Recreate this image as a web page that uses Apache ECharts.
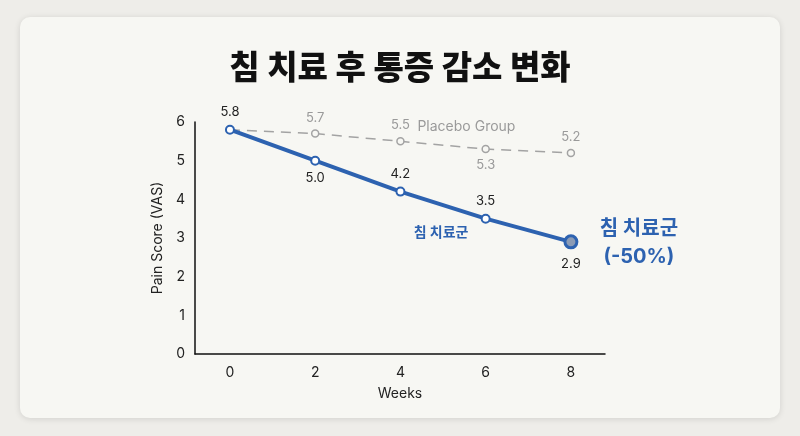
<!DOCTYPE html>
<html><head><meta charset="utf-8">
<script src="https://cdn.jsdelivr.net/npm/echarts@6/dist/echarts.min.js"></script>
<style>
html,body{margin:0;padding:0;background:#eeede9;width:800px;height:436px;overflow:hidden;}
#card{position:absolute;left:20px;top:17px;width:760px;height:401px;background:#f7f7f3;border-radius:10px;box-shadow:0 1px 6px rgba(0,0,0,0.12);}
#chart{position:absolute;left:0;top:0;width:800px;height:436px;}
</style></head>
<body><div id="card"></div><div id="chart"></div>
<script>
var weeks = [0, 2, 4, 6, 8];
var acupuncture = [5.8, 5.0, 4.2, 3.5, 2.9];
var placebo = [5.8, 5.7, 5.5, 5.3, 5.2];
var yTicks = [0, 1, 2, 3, 4, 5, 6];
var acuLabelPos = ['top', 'bottom', 'top', 'top', 'bottom'];
var plaLabelPos = [null, 'top', 'top', 'bottom', 'top'];

var FONT = 'Inter, "Noto Sans CJK KR", sans-serif';
var TFONT = '"Noto Sans CJK KR", sans-serif';
var BLUE = '#2d62b0';
var GRAY = '#a3a3a3';

var chart = echarts.init(document.getElementById('chart'), null, {renderer: 'canvas'});

function fmt(p) { return p.value[1].toFixed(1); }

var acuData = weeks.map(function (w, i) {
  var last = i === weeks.length - 1;
  return {
    value: [w, acupuncture[i]],
    symbolSize: last ? 12 : 8,
    itemStyle: last ? {color: '#8b9bb5', borderColor: BLUE, borderWidth: 3} : {color: '#ffffff', borderColor: BLUE, borderWidth: 2},
    label: {show: true, position: acuLabelPos[i], distance: last ? 8 : 6}
  };
});
var plaData = weeks.map(function (w, i) {
  return {
    value: [w, placebo[i]],
    label: {show: plaLabelPos[i] !== null, position: plaLabelPos[i] || 'top', distance: 5}
  };
});

var option = {
  animation: false,
  title: {
    text: '침 치료 후 통증 감소 변화',
    left: 'center', top: 45,
    textStyle: {fontFamily: TFONT, fontSize: 33, fontWeight: 900, color: '#111'}
  },
  grid: {left: 195, right: 195, top: 122, bottom: 82, containLabel: false},
  xAxis: {
    type: 'value', min: -0.82, max: 8.8,
    name: 'Weeks', nameLocation: 'middle', nameGap: 33,
    nameTextStyle: {fontFamily: FONT, fontSize: 14, color: '#222'},
    axisLine: {show: true, onZero: false, lineStyle: {color: '#111', width: 1.5}},
    axisTick: {show: false},
    splitLine: {show: false},
    axisLabel: {customValues: weeks, fontFamily: FONT, fontSize: 14, color: '#222', margin: 12}
  },
  yAxis: {
    type: 'value', min: 0, max: 6, interval: 1,
    name: 'Pain Score (VAS)', nameLocation: 'middle', nameGap: 30,
    nameTextStyle: {fontFamily: FONT, fontSize: 14, color: '#222'},
    axisLine: {show: true, onZero: false, lineStyle: {color: '#111', width: 1.5}},
    axisTick: {show: false},
    splitLine: {show: false},
    axisLabel: {customValues: yTicks, fontFamily: FONT, fontSize: 14, color: '#222', margin: 10}
  },
  series: [
    {
      name: 'Placebo Group', type: 'line', data: plaData, z: 2,
      symbol: 'circle', symbolSize: 7,
      lineStyle: {color: GRAY, width: 1.5, type: [10, 7]},
      itemStyle: {color: '#f7f7f3', borderColor: GRAY, borderWidth: 1.5},
      label: {fontFamily: FONT, fontSize: 13, color: '#9a9a9a', formatter: fmt}
    },
    {
      name: '침 치료군', type: 'line', data: acuData, z: 3,
      symbol: 'circle',
      lineStyle: {color: BLUE, width: 4},
      label: {fontFamily: FONT, fontSize: 13, color: '#222', formatter: fmt}
    }
  ]
};
chart.setOption(option);

function px(x, y) { return chart.convertToPixel({gridIndex: 0}, [x, y]); }
var pPla = px(weeks[2], placebo[2]);
var pAcu = px(weeks[3], acupuncture[3]);
var pEnd = px(weeks[4], acupuncture[4]);
chart.setOption({
  graphic: [
    {type: 'text', left: pPla[0] + 17, top: pPla[1] - 22,
     style: {text: 'Placebo Group', fontFamily: FONT, fontSize: 14, fill: '#9a9a9a'}},
    {type: 'text', left: pAcu[0] - 72, top: pAcu[1] + 7,
     style: {text: '침 치료군', fontFamily: FONT, fontSize: 14, fontWeight: 'bold', fill: BLUE}},
    {type: 'text', x: pEnd[0] + 68, y: pEnd[1] - 27,
     style: {text: '침 치료군\n(-50%)', fontFamily: FONT, fontSize: 20, fontWeight: 'bold', fill: BLUE, lineHeight: 28, align: 'center', verticalAlign: 'top'}}
  ]
});
</script></body></html>
